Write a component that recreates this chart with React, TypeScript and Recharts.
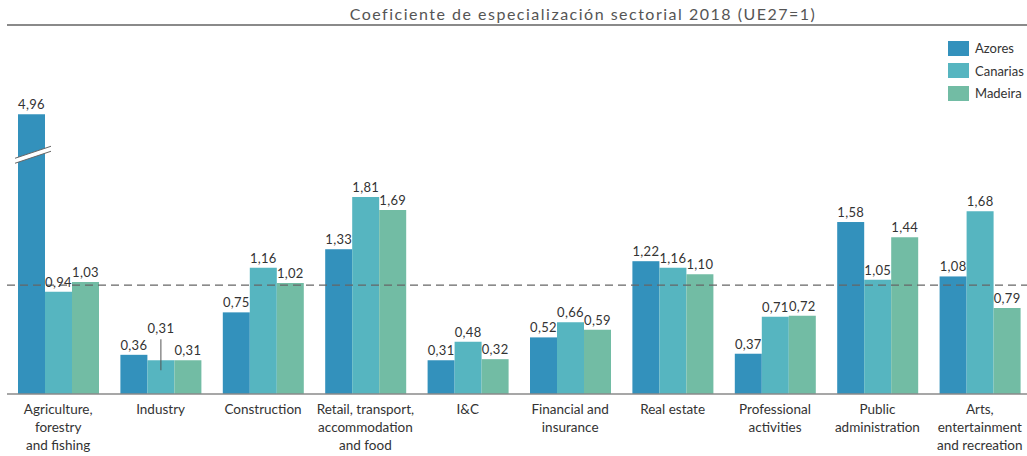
import React from 'react';
import { BarChart, Bar, XAxis, YAxis, ReferenceLine, LabelList } from 'recharts';

const categories = [
  'Agriculture,\nforestry\nand fishing',
  'Industry',
  'Construction',
  'Retail, transport,\naccommodation\nand food',
  'I&C',
  'Financial and\ninsurance',
  'Real estate',
  'Professional\nactivities',
  'Public\nadministration',
  'Arts,\nentertainment\nand recreation',
];
const azores = [4.96, 0.36, 0.75, 1.33, 0.31, 0.52, 1.22, 0.37, 1.58, 1.08];
const canarias = [0.94, 0.31, 1.16, 1.81, 0.48, 0.66, 1.16, 0.71, 1.05, 1.68];
const madeira = [1.03, 0.31, 1.02, 1.69, 0.32, 0.59, 1.1, 0.72, 1.44, 0.79];

const seriesNames = ['Azores', 'Canarias', 'Madeira'];
const COLORS = ['#3391bc', '#56b5c0', '#72bca4'];

// bars above this are drawn cut (broken axis)
const CAP = 2.57;

const data = categories.map((name, i) => ({
  name,
  azores: azores[i],
  canarias: canarias[i],
  madeira: madeira[i],
}));

const FONT = 'Lato, "Open Sans", sans-serif';
const fmt = (v: number) => v.toFixed(2).replace('.', ',');

const BrokenBar = (props: any) => {
  const { x, y, width, height, fill, payload } = props;
  const broken = payload && payload.azores > CAP;
  return (
    <g>
      <rect x={x} y={y} width={width} height={height} fill={fill} />
      {broken && (
        <g>
          <polygon
            points={`${x - 3},${y + 44} ${x + width + 6},${y + 32} ${x + width + 6},${y + 37} ${x - 3},${y + 49}`}
            fill="#fff"
          />
          <line x1={x - 3} y1={y + 44} x2={x + width + 6} y2={y + 32} stroke="#666" strokeWidth={1} />
          <line x1={x - 3} y1={y + 49} x2={x + width + 6} y2={y + 37} stroke="#666" strokeWidth={1} />
        </g>
      )}
    </g>
  );
};

const makeLabel = (values: number[], series: number) => (props: any) => {
  const { x, y, width, index } = props;
  const v = values[index];
  const cx = x + width / 2;
  // Industry / Canarias label lifted with a leader line
  const lifted = series === 1 && index === 1;
  const ty = lifted ? y - 27 : y - 5;
  return (
    <g>
      {lifted && <line x1={cx} y1={y - 21} x2={cx} y2={y + 10} stroke="#555" strokeWidth={1} />}
      <text x={cx} y={ty} textAnchor="middle" fontSize={13} fill="#333" fontFamily={FONT} letterSpacing={0.3}>
        {fmt(v)}
      </text>
    </g>
  );
};

const CategoryTick = (props: any) => {
  const { x, y, payload } = props;
  const lines = String(payload.value).split('\n');
  return (
    <text x={x} y={y + 12} textAnchor="middle" fontSize={13.5} fill="#333" fontFamily={FONT}>
      {lines.map((l, i) => (
        <tspan key={i} x={x} dy={i === 0 ? 0 : 18}>
          {l}
        </tspan>
      ))}
    </text>
  );
};

export default function App() {
  return (
    <div style={{ position: 'absolute', left: 0, top: 0, width: 1027, height: 456, overflow: 'hidden', background: '#fff' }}>
      <div
        style={{
          position: 'absolute',
          left: 0,
          width: 1166,
          top: 4,
          textAlign: 'center',
          fontFamily: FONT,
          fontSize: 16,
          letterSpacing: 1.5,
          color: '#555',
          whiteSpace: 'nowrap',
        }}
      >
        Coeficiente de especialización sectorial 2018 (UE27=1)
      </div>
      <div style={{ position: 'absolute', left: 7, right: 0, top: 24, height: 2, background: '#8a8a8a' }} />
      <div style={{ position: 'absolute', left: 948, top: 37, fontFamily: FONT, fontSize: 13, color: '#333' }}>
        {seriesNames.map((n, i) => (
          <div key={n} style={{ display: 'flex', alignItems: 'center', height: 22.5 }}>
            <span style={{ display: 'inline-block', width: 21, height: 15, background: COLORS[i], marginRight: 6 }} />
            {n}
          </div>
        ))}
      </div>
      <BarChart
        width={1031}
        height={456}
        data={data}
        margin={{ top: 111, right: 0, bottom: 0, left: 7 }}
        barGap={0}
        barSize={27}
      >
        <XAxis
          dataKey="name"
          interval={0}
          tickLine={false}
          axisLine={{ stroke: '#8a8a8a', strokeWidth: 1.5 }}
          height={62}
          tick={<CategoryTick />}
        />
        <YAxis hide domain={[0, 2.6]} allowDataOverflow />
        <Bar
          dataKey={(d: any) => Math.min(d.azores, CAP)}
          name="Azores"
          fill={COLORS[0]}
          isAnimationActive={false}
          shape={<BrokenBar />}
        >
          <LabelList content={makeLabel(azores, 0)} />
        </Bar>
        <Bar dataKey="canarias" name="Canarias" fill={COLORS[1]} isAnimationActive={false}>
          <LabelList content={makeLabel(canarias, 1)} />
        </Bar>
        <Bar dataKey="madeira" name="Madeira" fill={COLORS[2]} isAnimationActive={false}>
          <LabelList content={makeLabel(madeira, 2)} />
        </Bar>
        <ReferenceLine y={1} stroke="#666" strokeWidth={1.2} strokeDasharray="8 5" ifOverflow="extendDomain" />
      </BarChart>
    </div>
  );
}
